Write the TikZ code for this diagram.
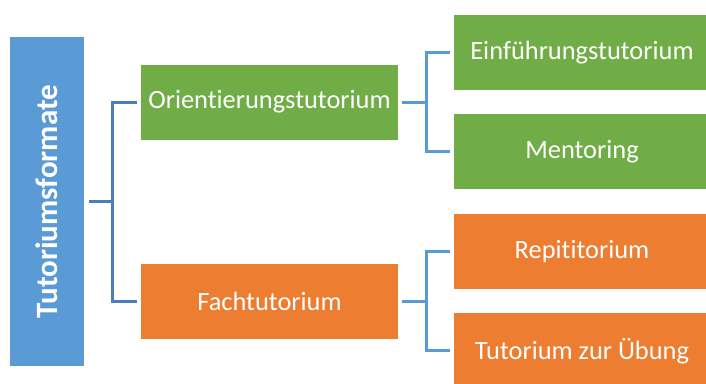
\documentclass[tikz,border=0pt]{standalone}
\usepackage{fontspec}
\setmainfont{Carlito}[RawFeature={-liga;-clig;-calt;-dlig}]
\definecolor{cblue}{HTML}{5B9BD5}
\definecolor{cgreen}{HTML}{70AD47}
\definecolor{corange}{HTML}{ED7D31}
\definecolor{lineL}{HTML}{4A7EBB}
\definecolor{lineR}{HTML}{5B9BD5}
\begin{document}
\begin{tikzpicture}[x=1pt,y=-1pt,
  box/.style={inner sep=0pt, outer sep=0pt, text=white, font=\fontsize{26.4}{30}\selectfont, minimum height=75pt},
  midbox/.style={box, minimum width=257pt},
  leafbox/.style={box, minimum width=256pt},
  connL/.style={draw=lineL, line width=3pt},
  connR/.style={draw=lineR, line width=3pt}]
\useasboundingbox (0,0) rectangle (706,383);
\clip (0,0) rectangle (706,383);
\node[box, fill=cblue, minimum width=74pt, minimum height=329pt] (root) at (47,201.5) {};
\node[text=white, font=\bfseries\fontsize{31}{34}\selectfont, rotate=90, inner sep=0pt] (rootlbl) at (root.center) {Tutoriumsformate};
\node[midbox, fill=cgreen] (ori) at (269.5,102) {Orientierungstutorium};
\node[midbox, fill=corange] (fach) at (269.5,301) {Fachtutorium};
\node[leafbox, fill=cgreen] (ein) at (582,52.5) {Einführungstutorium};
\node[leafbox, fill=cgreen] (men) at (582,151.8) {Mentoring};
\node[leafbox, fill=corange] (rep) at (582,251.3) {Repititorium};
\node[leafbox, fill=corange] (tzu) at (582,350.8) {Tutorium zur Übung};
\coordinate (j1) at (112,201.5);
\coordinate (j2) at (426,102);
\coordinate (j3) at (426,301);
\draw[connL] ([xshift=5pt]root.east) -- (j1);
\draw[connL] ([xshift=-4pt]ori.west) -| (j1) |- ([xshift=-4pt]fach.west);
\draw[connR] ([xshift=4pt]ori.east) -- (j2);
\draw[connR] ([xshift=-4pt]ein.west) -| (j2) |- ([xshift=-4pt]men.west);
\draw[connR] ([xshift=4pt]fach.east) -- (j3);
\draw[connR] ([xshift=-4pt]rep.west) -| (j3) |- ([xshift=-4pt]tzu.west);
\end{tikzpicture}
\end{document}
